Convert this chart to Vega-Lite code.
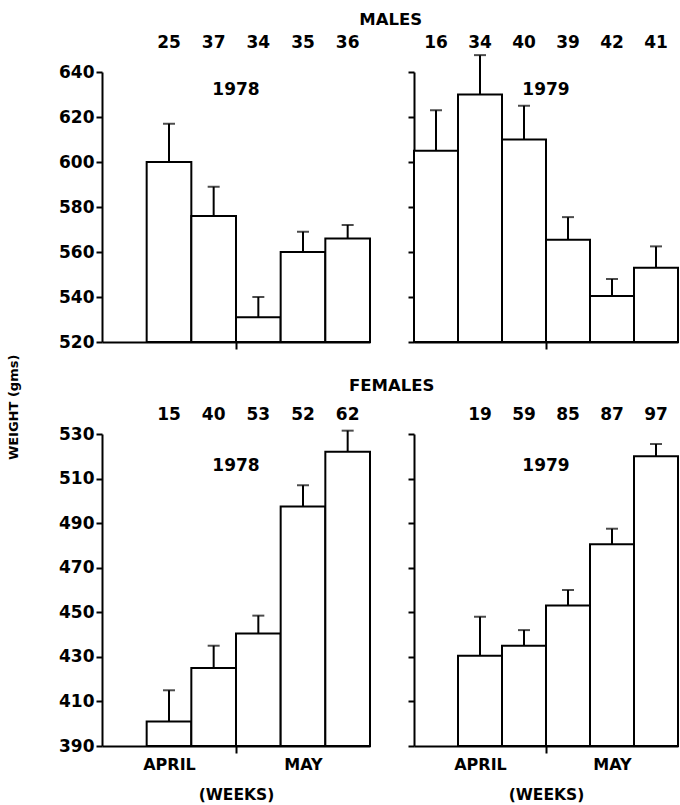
{
  "$schema": "https://vega.github.io/schema/vega-lite/v6.json",
  "padding": {"left": 7, "top": 12, "right": 2, "bottom": 1},
  "background": "white",
  "title": {"text": "WEIGHT (gms)", "orient": "left", "anchor": "middle", "font": "DejaVu Sans", "fontSize": 13, "fontWeight": "bold", "color": "black", "offset": 38},
  "config": {
    "view": {"stroke": null},
    "axis": {"domainColor": "black", "domainWidth": 2, "tickColor": "black", "tickWidth": 2, "grid": false, "labelFont": "DejaVu Sans", "labelFontWeight": "bold", "labelFontSize": 17, "labelColor": "black", "titleFont": "DejaVu Sans", "titleFontWeight": "bold", "titleFontSize": 15.5, "titleColor": "black"},
    "title": {"font": "DejaVu Sans", "fontWeight": "bold", "fontSize": 16.5, "color": "black"}
  },
  "data": {"values": [
    {"sex": "MALES", "year": 1978, "week": 2, "weight": 600, "upper": 617, "n": 25},
    {"sex": "MALES", "year": 1978, "week": 3, "weight": 576, "upper": 589, "n": 37},
    {"sex": "MALES", "year": 1978, "week": 4, "weight": 531, "upper": 540, "n": 34},
    {"sex": "MALES", "year": 1978, "week": 5, "weight": 560, "upper": 569, "n": 35},
    {"sex": "MALES", "year": 1978, "week": 6, "weight": 566, "upper": 572, "n": 36},
    {"sex": "MALES", "year": 1979, "week": 1, "weight": 605, "upper": 623, "n": 16},
    {"sex": "MALES", "year": 1979, "week": 2, "weight": 630, "upper": 647.5, "n": 34},
    {"sex": "MALES", "year": 1979, "week": 3, "weight": 610, "upper": 625, "n": 40},
    {"sex": "MALES", "year": 1979, "week": 4, "weight": 565.5, "upper": 575.5, "n": 39},
    {"sex": "MALES", "year": 1979, "week": 5, "weight": 540.5, "upper": 548, "n": 42},
    {"sex": "MALES", "year": 1979, "week": 6, "weight": 553, "upper": 562.5, "n": 41},
    {"sex": "FEMALES", "year": 1978, "week": 2, "weight": 401, "upper": 415, "n": 15},
    {"sex": "FEMALES", "year": 1978, "week": 3, "weight": 425, "upper": 435, "n": 40},
    {"sex": "FEMALES", "year": 1978, "week": 4, "weight": 440.5, "upper": 448.5, "n": 53},
    {"sex": "FEMALES", "year": 1978, "week": 5, "weight": 497.5, "upper": 507, "n": 52},
    {"sex": "FEMALES", "year": 1978, "week": 6, "weight": 522, "upper": 531.5, "n": 62},
    {"sex": "FEMALES", "year": 1979, "week": 2, "weight": 430.5, "upper": 448, "n": 19},
    {"sex": "FEMALES", "year": 1979, "week": 3, "weight": 435, "upper": 442, "n": 59},
    {"sex": "FEMALES", "year": 1979, "week": 4, "weight": 453, "upper": 460, "n": 85},
    {"sex": "FEMALES", "year": 1979, "week": 5, "weight": 480.5, "upper": 487.5, "n": 87},
    {"sex": "FEMALES", "year": 1979, "week": 6, "weight": 520, "upper": 525.5, "n": 97}
  ]},
  "spacing": 27,
  "vconcat": [
    {
      "title": {"text": "MALES", "anchor": "middle", "offset": 5, "dx": 22},
      "spacing": 36,
      "hconcat": [
        {
          "width": 268, "height": 270,
          "transform": [{"filter": "datum.sex === 'MALES' && datum.year === 1978"}],
          "encoding": {"x": {"field": "week", "type": "ordinal", "scale": {"domain": [1, 2, 3, 4, 5, 6], "paddingInner": 0, "paddingOuter": 0},
            "axis": {"labels": false, "title": null, "tickBand": "extent", "tickSize": 7, "tickOpacity": {"condition": {"test": "datum.value == 3", "value": 1}, "value": 0}}}},
          "layer": [
            {"mark": {"type": "bar", "fill": "white", "stroke": "black", "strokeWidth": 2},
             "encoding": {"y": {"field": "weight", "type": "quantitative", "scale": {"domain": [520, 640], "nice": false, "zero": false},
               "axis": {"title": null, "values": [520, 540, 560, 580, 600, 620, 640], "tickSize": 6, "labelPadding": 2}}, "y2": {"datum": 520}}},
            {"mark": {"type": "rule", "strokeWidth": 2, "color": "black"},
             "encoding": {"y": {"field": "weight", "type": "quantitative"}, "y2": {"field": "upper"}}},
            {"mark": {"type": "tick", "orient": "horizontal", "size": 12, "thickness": 2, "color": "black"},
             "encoding": {"y": {"field": "upper", "type": "quantitative"}}},
            {"mark": {"type": "text", "font": "DejaVu Sans", "fontWeight": "bold", "fontSize": 17, "color": "black"},
             "encoding": {"y": {"datum": 653, "type": "quantitative"}, "text": {"field": "n", "type": "quantitative"}}},
            {"transform": [{"aggregate": [{"op": "max", "field": "year", "as": "year"}]}],
             "mark": {"type": "text", "font": "DejaVu Sans", "fontWeight": "bold", "fontSize": 17, "color": "black"},
             "encoding": {"x": {"datum": 4, "type": "ordinal", "bandPosition": 0}, "y": {"datum": 632, "type": "quantitative"}, "text": {"field": "year", "type": "quantitative", "format": "d"}}}
          ]
        },
        {
          "width": 264, "height": 270,
          "transform": [{"filter": "datum.sex === 'MALES' && datum.year === 1979"}],
          "encoding": {"x": {"field": "week", "type": "ordinal", "scale": {"domain": [1, 2, 3, 4, 5, 6], "paddingInner": 0, "paddingOuter": 0},
            "axis": {"labels": false, "title": null, "tickBand": "extent", "tickSize": 7, "tickOpacity": {"condition": {"test": "datum.value == 3", "value": 1}, "value": 0}}}},
          "layer": [
            {"mark": {"type": "bar", "fill": "white", "stroke": "black", "strokeWidth": 2},
             "encoding": {"y": {"field": "weight", "type": "quantitative", "scale": {"domain": [520, 640], "nice": false, "zero": false},
               "axis": {"title": null, "values": [520, 540, 560, 580, 600, 620, 640], "tickSize": 6, "labels": false}}, "y2": {"datum": 520}}},
            {"mark": {"type": "rule", "strokeWidth": 2, "color": "black"},
             "encoding": {"y": {"field": "weight", "type": "quantitative"}, "y2": {"field": "upper"}}},
            {"mark": {"type": "tick", "orient": "horizontal", "size": 12, "thickness": 2, "color": "black"},
             "encoding": {"y": {"field": "upper", "type": "quantitative"}}},
            {"mark": {"type": "text", "font": "DejaVu Sans", "fontWeight": "bold", "fontSize": 17, "color": "black"},
             "encoding": {"y": {"datum": 653, "type": "quantitative"}, "text": {"field": "n", "type": "quantitative"}}},
            {"transform": [{"aggregate": [{"op": "max", "field": "year", "as": "year"}]}],
             "mark": {"type": "text", "font": "DejaVu Sans", "fontWeight": "bold", "fontSize": 17, "color": "black"},
             "encoding": {"x": {"datum": 4, "type": "ordinal", "bandPosition": 0}, "y": {"datum": 632, "type": "quantitative"}, "text": {"field": "year", "type": "quantitative", "format": "d"}}}
          ]
        }
      ]
    },
    {
      "title": {"text": "FEMALES", "anchor": "middle", "offset": 12, "dx": 23},
      "spacing": 36,
      "hconcat": [
        {
          "width": 268, "height": 312,
          "transform": [{"filter": "datum.sex === 'FEMALES' && datum.year === 1978"}],
          "encoding": {"x": {"field": "week", "type": "ordinal", "scale": {"domain": [1, 2, 3, 4, 5, 6], "paddingInner": 0, "paddingOuter": 0},
            "axis": {"title": "(WEEKS)", "titlePadding": 15, "labelExpr": "datum.value == 2 ? 'APRIL' : datum.value == 5 ? 'MAY' : ''", "labelAngle": 0, "labelFontSize": 16, "labelPadding": 3, "tickBand": "extent", "tickSize": 7, "tickOpacity": {"condition": {"test": "datum.value == 3", "value": 1}, "value": 0}}}},
          "layer": [
            {"mark": {"type": "bar", "fill": "white", "stroke": "black", "strokeWidth": 2},
             "encoding": {"y": {"field": "weight", "type": "quantitative", "scale": {"domain": [390, 530], "nice": false, "zero": false},
               "axis": {"title": null, "values": [390, 410, 430, 450, 470, 490, 510, 530], "tickSize": 6, "labelPadding": 2}}, "y2": {"datum": 390}}},
            {"mark": {"type": "rule", "strokeWidth": 2, "color": "black"},
             "encoding": {"y": {"field": "weight", "type": "quantitative"}, "y2": {"field": "upper"}}},
            {"mark": {"type": "tick", "orient": "horizontal", "size": 12, "thickness": 2, "color": "black"},
             "encoding": {"y": {"field": "upper", "type": "quantitative"}}},
            {"mark": {"type": "text", "font": "DejaVu Sans", "fontWeight": "bold", "fontSize": 17, "color": "black"},
             "encoding": {"y": {"datum": 538.5, "type": "quantitative"}, "text": {"field": "n", "type": "quantitative"}}},
            {"transform": [{"aggregate": [{"op": "max", "field": "year", "as": "year"}]}],
             "mark": {"type": "text", "font": "DejaVu Sans", "fontWeight": "bold", "fontSize": 17, "color": "black"},
             "encoding": {"x": {"datum": 4, "type": "ordinal", "bandPosition": 0}, "y": {"datum": 515.5, "type": "quantitative"}, "text": {"field": "year", "type": "quantitative", "format": "d"}}}
          ]
        },
        {
          "width": 264, "height": 312,
          "transform": [{"filter": "datum.sex === 'FEMALES' && datum.year === 1979"}],
          "encoding": {"x": {"field": "week", "type": "ordinal", "scale": {"domain": [1, 2, 3, 4, 5, 6], "paddingInner": 0, "paddingOuter": 0},
            "axis": {"title": "(WEEKS)", "titlePadding": 15, "labelExpr": "datum.value == 2 ? 'APRIL' : datum.value == 5 ? 'MAY' : ''", "labelAngle": 0, "labelFontSize": 16, "labelPadding": 3, "tickBand": "extent", "tickSize": 7, "tickOpacity": {"condition": {"test": "datum.value == 3", "value": 1}, "value": 0}}}},
          "layer": [
            {"mark": {"type": "bar", "fill": "white", "stroke": "black", "strokeWidth": 2},
             "encoding": {"y": {"field": "weight", "type": "quantitative", "scale": {"domain": [390, 530], "nice": false, "zero": false},
               "axis": {"title": null, "values": [390, 410, 430, 450, 470, 490, 510, 530], "tickSize": 6, "labels": false}}, "y2": {"datum": 390}}},
            {"mark": {"type": "rule", "strokeWidth": 2, "color": "black"},
             "encoding": {"y": {"field": "weight", "type": "quantitative"}, "y2": {"field": "upper"}}},
            {"mark": {"type": "tick", "orient": "horizontal", "size": 12, "thickness": 2, "color": "black"},
             "encoding": {"y": {"field": "upper", "type": "quantitative"}}},
            {"mark": {"type": "text", "font": "DejaVu Sans", "fontWeight": "bold", "fontSize": 17, "color": "black"},
             "encoding": {"y": {"datum": 538.5, "type": "quantitative"}, "text": {"field": "n", "type": "quantitative"}}},
            {"transform": [{"aggregate": [{"op": "max", "field": "year", "as": "year"}]}],
             "mark": {"type": "text", "font": "DejaVu Sans", "fontWeight": "bold", "fontSize": 17, "color": "black"},
             "encoding": {"x": {"datum": 4, "type": "ordinal", "bandPosition": 0}, "y": {"datum": 515.5, "type": "quantitative"}, "text": {"field": "year", "type": "quantitative", "format": "d"}}}
          ]
        }
      ]
    }
  ]
}
